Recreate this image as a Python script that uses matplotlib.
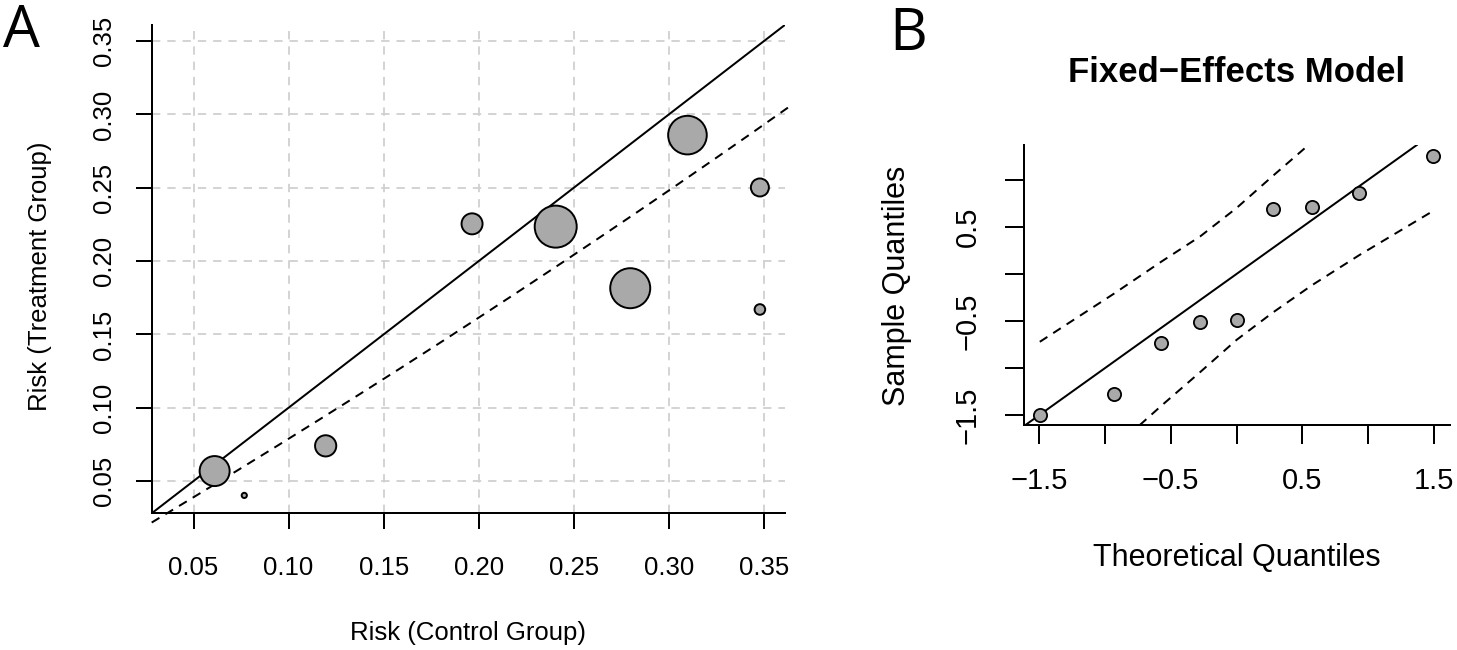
import numpy as np
import matplotlib
matplotlib.use("Agg")
import matplotlib.pyplot as plt

plt.rcParams['font.family'] = ['Liberation Sans', 'DejaVu Sans']
plt.rcParams['lines.scale_dashes'] = False
plt.rcParams['axes.unicode_minus'] = True

# ---------------- Panel A data (L'Abbe plot) ----------------
risk_control = [0.0611, 0.0767, 0.1195, 0.1965, 0.2405, 0.2797, 0.3098, 0.3479, 0.3479]
risk_treatment = [0.0568, 0.0402, 0.0740, 0.2254, 0.2235, 0.1815, 0.2859, 0.2502, 0.1670]
point_radius_px = [15.7, 3.3, 11.3, 11.2, 21.7, 20.7, 20.0, 9.7, 6.0]
pooled_or = 0.77
a_ticks = [0.05, 0.10, 0.15, 0.20, 0.25, 0.30, 0.35]
a_ticklabels = ["0.05", "0.10", "0.15", "0.20", "0.25", "0.30", "0.35"]
a_lim = (0.028, 0.361)

# ---------------- Panel B data (QQ plot) ----------------
theoretical_q = [-1.494, -0.932, -0.572, -0.275, 0.0, 0.275, 0.572, 0.932, 1.494]
sample_q = [-1.500, -1.277, -0.731, -0.515, -0.485, 0.687, 0.709, 0.855, 1.256]
env_upper = [-0.72, -0.21, 0.13, 0.40, 0.70, 1.04, 1.40, 1.85, 2.45]
env_lower = [-2.45, -1.85, -1.40, -1.04, -0.70, -0.41, -0.12, 0.20, 0.67]
b_xticks = [-1.5, -1.0, -0.5, 0.0, 0.5, 1.0, 1.5]
b_xticklabels = ["\u22121.5", "", "\u22120.5", "", "0.5", "", "1.5"]
b_yticks = [-1.5, -1.0, -0.5, 0.0, 0.5, 1.0]
b_yticklabels = ["\u22121.5", "", "\u22120.5", "", "0.5", ""]
b_xlim = (-1.614, 1.621)
b_ylim = (-1.603, 1.369)

W, H = 1457, 650
fig = plt.figure(figsize=(W / 100, H / 100), dpi=100)
PX = 0.72  # points per pixel

def px_axes(l, r, t, b):
    return [l / W, 1 - b / H, (r - l) / W, (b - t) / H]

fill_gray = "#A9A9A9"
lw_px = 2.0

# ---------------- Panel A ----------------
axA = fig.add_axes(px_axes(151.7, 784.8, 25, 513.3))
axA.set_xlim(*a_lim)
axA.set_ylim(*a_lim)
for s in ["top", "right"]:
    axA.spines[s].set_visible(False)
for s in ["left", "bottom"]:
    axA.spines[s].set_linewidth(lw_px * PX)
axA.set_xticks(a_ticks, a_ticklabels)
axA.set_yticks(a_ticks, a_ticklabels)
axA.tick_params(axis="both", direction="out", length=16 * PX, width=lw_px * PX,
                labelsize=18.5, color="black")
axA.tick_params(axis="x", pad=19)
axA.tick_params(axis="y", pad=14, labelrotation=90)
for lab in axA.get_yticklabels():
    lab.set_va("center")
axA.set_axisbelow(True)
axA.grid(True, color="#D0D0D0", linewidth=1.3, linestyle=(0, (6, 5)))

axA.axline((0, 0), slope=1, color="black", linewidth=lw_px * PX, zorder=2)
xc = np.linspace(a_lim[0], a_lim[1] + 0.003, 300)
yc = pooled_or * xc / (1 - xc + pooled_or * xc)
axA.plot(xc, yc, color="black", linewidth=lw_px * PX, linestyle=(0, (6.5, 5)),
         clip_on=False, zorder=2)

sizes = [(2 * r * PX - 1.0) ** 2 for r in point_radius_px]
axA.scatter(risk_control, risk_treatment, s=sizes, facecolor=fill_gray,
            edgecolor="black", linewidth=1.4, zorder=3)

axA.text(0.5, (513.3 - 640) / 488.3, "Risk (Control Group)", transform=axA.transAxes,
         ha="center", va="baseline", fontsize=18.5)
axA.text((39.5 - 151.7) / 633.1, (513.3 - 276) / 488.3, "Risk (Treatment Group)",
         transform=axA.transAxes, ha="center", va="center", rotation=90, fontsize=18.5)

# ---------------- Panel B ----------------
axB = fig.add_axes(px_axes(1024, 1450, 145, 425))
axB.set_xlim(*b_xlim)
axB.set_ylim(*b_ylim)
for s in ["top", "right"]:
    axB.spines[s].set_visible(False)
for s in ["left", "bottom"]:
    axB.spines[s].set_linewidth(lw_px * PX)
axB.set_xticks(b_xticks, b_xticklabels)
axB.set_yticks(b_yticks, b_yticklabels)
axB.tick_params(axis="both", direction="out", length=19 * PX, width=lw_px * PX,
                labelsize=21, color="black")
axB.tick_params(axis="x", pad=16.5)
axB.tick_params(axis="y", pad=17, labelrotation=90)
for lab in axB.get_yticklabels():
    lab.set_va("center")

axB.axline((0, 0), slope=1, color="black", linewidth=lw_px * PX, zorder=2)
axB.plot(theoretical_q, env_upper, color="black", linewidth=lw_px * PX,
         linestyle=(0, (6.5, 5)), zorder=2)
axB.plot(theoretical_q, env_lower, color="black", linewidth=lw_px * PX,
         linestyle=(0, (6.5, 5)), zorder=2)
axB.plot(theoretical_q, sample_q, linestyle="none", marker="o", markersize=9.5,
         markerfacecolor=fill_gray, markeredgecolor="black", markeredgewidth=1.3,
         zorder=3)

axB.text(0.5, (425 - 566) / 280, "Theoretical Quantiles", transform=axB.transAxes,
         ha="center", va="baseline", fontsize=22)
axB.text((897 - 1024) / 426, (425 - 286) / 280, "Sample Quantiles", transform=axB.transAxes,
         ha="center", va="center", rotation=90, fontsize=22)
axB.text((1236.7 - 1024) / 426, (425 - 81.7) / 280, "Fixed\u2212Effects Model",
         transform=axB.transAxes, ha="center", va="baseline", fontsize=25,
         fontweight="bold")

# Panel letters
fig.text(3 / W, 1 - 47 / H, "A", ha="left", va="baseline", fontsize=42,
         family=["Open Sans", "DejaVu Sans"])
fig.text(889 / W, 1 - 50 / H, "B", ha="left", va="baseline", fontsize=42,
         family=["Open Sans", "DejaVu Sans"])

fig.savefig("out.png", dpi=100)
